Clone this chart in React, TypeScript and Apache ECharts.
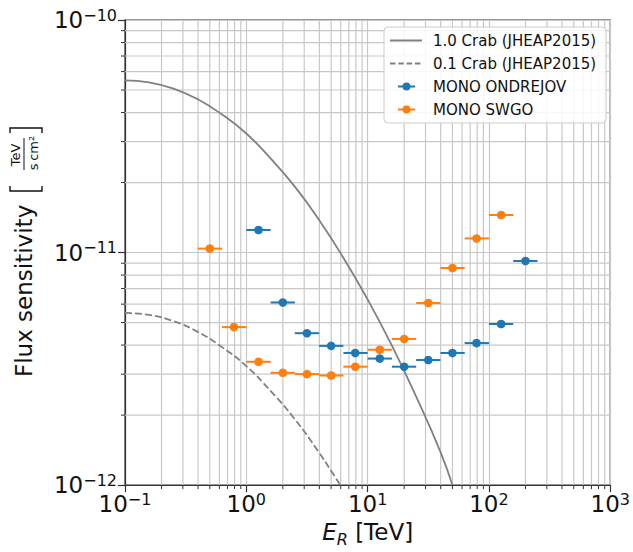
import React, { useEffect, useRef } from 'react';
import * as echarts from 'echarts';

// ---- data ----
const crabE = [0.1, 0.158, 0.251, 0.398, 0.631, 1, 1.585, 2.512, 3.981, 6.31, 10, 15.85, 25.12, 39.81, 50];
const crab1 = [5.5e-11, 5.39e-11, 5.07e-11, 4.56e-11, 3.92e-11, 3.25e-11, 2.54e-11, 1.92e-11, 1.38e-11, 9.5e-12, 6.28e-12, 3.98e-12, 2.4e-12, 1.39e-12, 1.0e-12];
const crab01E = [0.1, 0.158, 0.251, 0.398, 0.631, 1, 1.585, 2.512, 3.981, 5.01, 5.95];
const crab01 = [5.5e-12, 5.39e-12, 5.07e-12, 4.56e-12, 3.92e-12, 3.25e-12, 2.54e-12, 1.92e-12, 1.38e-12, 1.15e-12, 1.0e-12];
const binEdges = [0.398, 0.631, 1.0, 1.585, 2.512, 3.981, 6.31, 10, 15.85, 25.12, 39.81, 63.1, 100, 158.5, 251.2];
const swgoE = [0.5, 0.79, 1.26, 2.0, 3.16, 5.0, 7.9, 12.6, 20, 31.6, 50, 79, 126];
const swgoF = [1.04e-11, 4.78e-12, 3.39e-12, 3.04e-12, 3.0e-12, 2.96e-12, 3.23e-12, 3.82e-12, 4.25e-12, 6.07e-12, 8.58e-12, 1.15e-11, 1.45e-11];
const ondE = [1.26, 2.0, 3.16, 5.0, 7.9, 12.6, 20, 31.6, 50, 79, 126, 200];
const ondF = [1.25e-11, 6.1e-12, 4.5e-12, 3.97e-12, 3.7e-12, 3.5e-12, 3.23e-12, 3.45e-12, 3.7e-12, 4.08e-12, 4.93e-12, 9.2e-12];
const xDecades = [0.1, 1, 10, 100];
const yDecades = [1e-12, 1e-11];
const minorMult = [2, 3, 4, 5, 6, 7, 8, 9];

const X_MIN = 0.1;
const X_MAX = 1000;
const Y_MIN = 1e-12;
const Y_MAX = 1e-10;

const NAMES = ['1.0 Crab (JHEAP2015)', '0.1 Crab (JHEAP2015)', 'MONO ONDREJOV', 'MONO SWGO'];
const FONT = 'DejaVu Sans';
const BLUE = '#1f77b4';
const ORANGE = '#ff7f0e';
const GREY = '#808080';
const GRID = '#c8c8c8';
const AXIS = '#333333';
const INK = '#111111';

const supLabel = (v: number) => {
  const e = Math.round(Math.log10(v));
  return '{b|10}{s|' + (e < 0 ? '\u2212' + -e : String(e)) + '}';
};

const labelRich = {
  b: { fontSize: 23, fontFamily: FONT, color: INK, lineHeight: 26 },
  s: { fontSize: 16, fontFamily: FONT, color: INK, verticalAlign: 'top', lineHeight: 16 },
};

const errRender = (color: string) => (params: any, api: any) => {
  const y = api.value(1);
  const c = api.coord([api.value(0), y]);
  const l = api.coord([api.value(2), y]);
  const h = api.coord([api.value(3), y]);
  return {
    type: 'group',
    children: [
      { type: 'line', shape: { x1: l[0], y1: l[1], x2: h[0], y2: h[1] }, style: { stroke: color, lineWidth: 2 } },
      { type: 'circle', shape: { cx: c[0], cy: c[1], r: 4.3 }, style: { fill: color } },
    ],
  };
};

// minor grid line + outward minor tick for a vertical (x) minor value
const xMinorRender = (params: any, api: any) => {
  const v = api.value(0);
  const b = api.coord([v, Y_MIN]);
  const t = api.coord([v, Y_MAX]);
  return {
    type: 'group',
    children: [
      { type: 'line', shape: { x1: b[0], y1: b[1], x2: t[0], y2: t[1] }, style: { stroke: GRID, lineWidth: 1.2 } },
      { type: 'line', shape: { x1: b[0], y1: b[1], x2: b[0], y2: b[1] + 4 }, style: { stroke: AXIS, lineWidth: 1 } },
    ],
  };
};

const yMinorRender = (params: any, api: any) => {
  const v = api.value(1);
  const l = api.coord([X_MIN, v]);
  const r = api.coord([X_MAX, v]);
  return {
    type: 'group',
    children: [
      { type: 'line', shape: { x1: l[0], y1: l[1], x2: r[0], y2: r[1] }, style: { stroke: GRID, lineWidth: 1.2 } },
      { type: 'line', shape: { x1: l[0], y1: l[1], x2: l[0] - 4, y2: l[1] }, style: { stroke: AXIS, lineWidth: 1 } },
    ],
  };
};

const BOUNDS = 'M0,0 L0.01,0 L0,0.01 Z M32,14 L31.99,14 L32,13.99 Z ';
const ERR_ICON = 'path://' + BOUNDS + 'M8,6 L25,6 L25,8 L8,8 Z M20.5,7 A4,4 0 1,1 12.5,7 A4,4 0 1,1 20.5,7 Z';
const SOLID_ICON = 'path://' + BOUNDS + 'M0,6.1 L32,6.1 L32,7.9 L0,7.9 Z';
const DASH_ICON =
  'path://' + BOUNDS +
  'M0,6.1 L5.5,6.1 L5.5,7.9 L0,7.9 Z M8.3,6.1 L13.8,6.1 L13.8,7.9 L8.3,7.9 Z M16.6,6.1 L22.1,6.1 L22.1,7.9 L16.6,7.9 Z M24.9,6.1 L30.4,6.1 L30.4,7.9 L24.9,7.9 Z';

export default function App() {
  const ref = useRef<HTMLDivElement>(null);
  useEffect(() => {
    document.body.style.margin = '0';
    const chart = echarts.init(ref.current!, null, { renderer: 'svg' });
    const minorX = xDecades.flatMap((d) => minorMult.map((m) => m * d));
    const minorY = yDecades.flatMap((d) => minorMult.map((m) => m * d));
    const option: any = {
      animation: false,
      backgroundColor: '#ffffff',
      textStyle: { fontFamily: FONT },
      grid: { left: 125, right: 20, top: 20, bottom: 65, show: true, borderColor: AXIS, borderWidth: 1.2 },
      legend: {
        orient: 'vertical',
        left: 384,
        top: 27,
        padding: [6, 10, 6, 6],
        itemWidth: 32,
        itemHeight: 14,
        itemGap: 8,
        backgroundColor: 'rgba(255,255,255,0.85)',
        borderColor: '#cccccc',
        borderWidth: 1,
        borderRadius: 4,
        textStyle: { fontSize: 15, color: INK, fontFamily: FONT, padding: [0, 0, 0, 6] },
        data: [
          { name: NAMES[0], icon: SOLID_ICON },
          { name: NAMES[1], icon: DASH_ICON },
          { name: NAMES[2], icon: ERR_ICON },
          { name: NAMES[3], icon: ERR_ICON },
        ],
      },
      xAxis: {
        type: 'log',
        logBase: 10,
        min: X_MIN,
        max: X_MAX,
        axisLine: { show: true, lineStyle: { color: AXIS, width: 1.2 } },
        axisTick: { show: true, length: 7, lineStyle: { color: AXIS, width: 1.2 } },
        splitLine: { show: true, lineStyle: { color: GRID, width: 1.2 } },
        axisLabel: { margin: 6, formatter: supLabel, rich: labelRich, showMinLabel: true, showMaxLabel: true },
        name: '{e|E}{r|R}{t| [TeV]}',
        nameLocation: 'middle',
        nameGap: 31,
        nameTextStyle: {
          rich: {
            e: { fontSize: 23, fontStyle: 'italic', fontFamily: FONT, color: INK, lineHeight: 30 },
            r: { fontSize: 16, fontStyle: 'italic', fontFamily: FONT, color: INK, verticalAlign: 'bottom', lineHeight: 16 },
            t: { fontSize: 23, fontFamily: FONT, color: INK, lineHeight: 30 },
          },
        },
      },
      yAxis: {
        type: 'log',
        logBase: 10,
        min: Y_MIN,
        max: Y_MAX,
        axisLine: { show: true, lineStyle: { color: AXIS, width: 1.2 } },
        axisTick: { show: true, length: 7, lineStyle: { color: AXIS, width: 1.2 } },
        splitLine: { show: true, lineStyle: { color: GRID, width: 1.2 } },
        axisLabel: { margin: 8, formatter: supLabel, rich: labelRich, showMinLabel: true, showMaxLabel: true },
      },
      graphic: [
        {
          type: 'group',
          x: 24,
          y: 377,
          rotation: Math.PI / 2,
          children: [
            { type: 'text', x: 0, y: 0, style: { text: 'Flux sensitivity', fontSize: 23, fontFamily: FONT, fill: INK, align: 'left', verticalAlign: 'middle' } },
            { type: 'polyline', shape: { points: [[191, -14], [186, -14], [186, 18], [191, 18]] }, style: { stroke: INK, lineWidth: 1.4, fill: 'none' } },
            { type: 'text', x: 222, y: -8.5, style: { text: 'TeV', fontSize: 13, fontFamily: FONT, fill: INK, align: 'center', verticalAlign: 'middle' } },
            { type: 'line', shape: { x1: 207, y1: 0, x2: 239, y2: 0 }, style: { stroke: INK, lineWidth: 1 } },
            { type: 'text', x: 224, y: 9.5, style: { text: 's\u2009cm\u00b2', fontSize: 13, fontFamily: FONT, fill: INK, align: 'center', verticalAlign: 'middle' } },
            { type: 'polyline', shape: { points: [[244, -14], [249, -14], [249, 18], [244, 18]] }, style: { stroke: INK, lineWidth: 1.4, fill: 'none' } },
          ],
        },
      ],
      series: [
        {
          name: 'minor-x',
          type: 'custom',
          silent: true,
          z: 1,
          clip: false,
          renderItem: xMinorRender,
          encode: { x: 0, y: 1 },
          data: minorX.map((v) => [v, Y_MIN]),
        },
        {
          name: 'minor-y',
          type: 'custom',
          silent: true,
          z: 1,
          clip: false,
          renderItem: yMinorRender,
          encode: { x: 0, y: 1 },
          data: minorY.map((v) => [X_MIN, v]),
        },
        {
          name: NAMES[0],
          type: 'line',
          z: 3,
          symbol: 'none',
          smooth: 0.5,
          lineStyle: { color: GREY, width: 1.8 },
          itemStyle: { color: GREY },
          data: crabE.map((e, i) => [e, crab1[i]]),
        },
        {
          name: NAMES[1],
          type: 'line',
          z: 3,
          symbol: 'none',
          smooth: 0.5,
          lineStyle: { color: GREY, width: 1.8, type: [7, 3] },
          itemStyle: { color: GREY },
          data: crab01E.map((e, i) => [e, crab01[i]]),
        },
        {
          name: NAMES[2],
          type: 'custom',
          z: 4,
          itemStyle: { color: BLUE },
          renderItem: errRender(BLUE),
          encode: { x: [0, 2, 3], y: 1 },
          data: ondE.map((e, i) => [e, ondF[i], binEdges[i + 2], binEdges[i + 3]]),
        },
        {
          name: NAMES[3],
          type: 'custom',
          z: 5,
          itemStyle: { color: ORANGE },
          renderItem: errRender(ORANGE),
          encode: { x: [0, 2, 3], y: 1 },
          data: swgoE.map((e, i) => [e, swgoF[i], binEdges[i], binEdges[i + 1]]),
        },
      ],
    };
    chart.setOption(option);
    return () => chart.dispose();
  }, []);
  return <div ref={ref} style={{ width: 633, height: 552 }} />;
}
